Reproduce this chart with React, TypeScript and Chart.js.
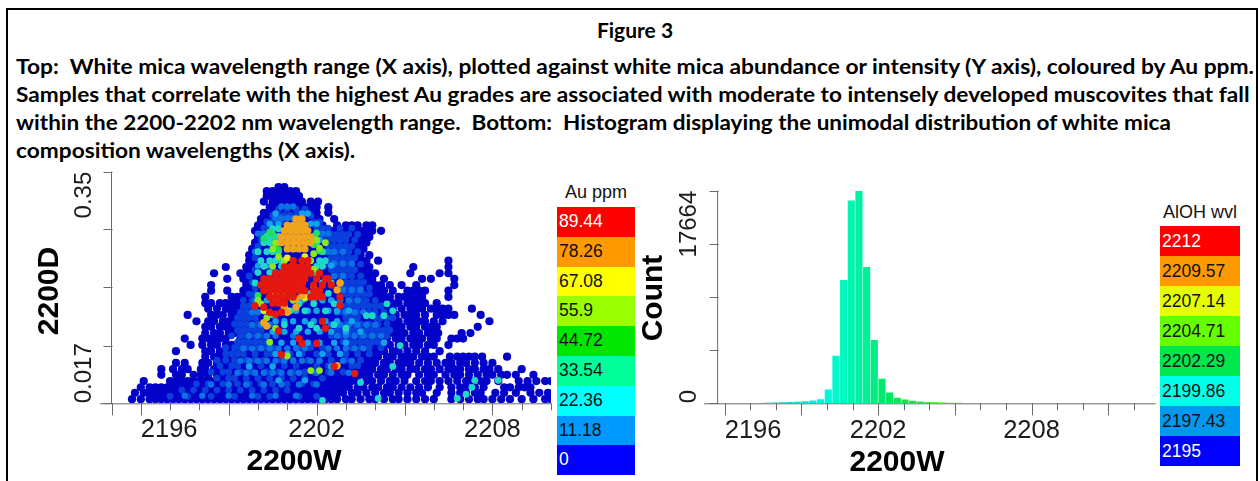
import React, { useEffect, useRef } from "react";
import { Chart, registerables } from "chart.js";
Chart.register(...registerables);

type Row = [number, number[]];
const X_ORIGIN = 2195; // scatter x values below are nm above this wavelength

const headerTitle = "Figure 3";
const headerLines = [
  "Top:  White mica wavelength range (X axis), plotted against white mica abundance or intensity (Y axis), coloured by Au ppm.",
  "Samples that correlate with the highest Au grades are associated with moderate to intensely developed muscovites that fall",
  "within the 2200-2202 nm wavelength range.  Bottom:  Histogram displaying the unimodal distribution of white mica",
  "composition wavelengths (X axis).",
];

const auLegendLabels = ["89.44", "78.26", "67.08", "55.9", "44.72", "33.54", "22.36", "11.18", "0"];
const auLegendColors = ["#ff0000", "#ff9900", "#ffff00", "#99ff00", "#00e600", "#00ff99", "#00ffff", "#0099ff", "#0000ff"];
const wvlLegendLabels = ["2212", "2209.57", "2207.14", "2204.71", "2202.29", "2199.86", "2197.43", "2195"];
const wvlLegendColors = ["#ff0000", "#ff9900", "#e6ff00", "#66ff00", "#00e64d", "#00ffe6", "#0099ee", "#0000ff"];

const scatterXTicks = [2195, 2196, 2197, 2198, 2199, 2200, 2201, 2202, 2203, 2204, 2205, 2206, 2207, 2208, 2209, 2210];
const scatterXMajor = [2195, 2196, 2199, 2202, 2205, 2208];
const scatterXLabels = [2196, 2202, 2208];
const scatterYTicks = [0.017, 0.1, 0.184, 0.267, 0.35];
const scatterYLabels = ["0.017", "", "", "", "0.35"];

const histXTicks = [2196, 2197, 2198, 2199, 2200, 2201, 2202, 2203, 2204, 2205, 2206, 2207, 2208, 2209, 2210, 2211, 2212];
const histXMajor = [2196, 2199, 2202, 2205, 2208, 2211];
const histXLabels = [2196, 2202, 2208];
const histYTicks = [0, 4416, 8832, 13248, 17664];
const histYLabels = ["0", "", "", "", "17664"];

const histBins = [2197.35, 2197.65, 2197.95, 2198.25, 2198.55, 2198.85, 2199.15, 2199.45, 2199.75, 2200.05, 2200.35, 2200.65, 2200.95, 2201.25, 2201.55, 2201.85, 2202.15, 2202.45, 2202.75, 2203.05, 2203.35, 2203.65, 2203.95, 2204.25, 2204.55, 2204.85, 2205.15, 2205.45, 2205.75, 2206.05, 2206.35, 2206.65];
const histCounts = [30, 40, 60, 90, 110, 130, 170, 230, 340, 1140, 3950, 10240, 16860, 17664, 11320, 5260, 2030, 890, 470, 310, 220, 140, 110, 85, 60, 50, 40, 35, 30, 25, 20, 15];
const histColors = ["#1aa8c8", "#1ab0c8", "#14c0c8", "#10c8d0", "#10d0d0", "#08e0e0", "#00e8e0", "#00f0e0", "#00f5dc", "#00f8d8", "#00f8cc", "#00f8c0", "#00f5b0", "#00f0a4", "#00f094", "#00ee84", "#00ea70", "#00e860", "#10e650", "#18e448", "#20e040", "#30e038", "#40e030", "#48e030", "#50e028", "#60e020", "#70e020", "#80e020", "#90e020", "#a0e020", "#b0e020", "#c0e020"];

const au0: Row[] = [
  [0.328, [5.7, 5.9]],
  [0.322, [5.3, 5.5, 5.7, 5.9, 6.1, 6.3]],
  [0.315, [5.3, 5.5, 5.7, 5.9, 6.1, 6.3, 6.4]],
  [0.307, [5.2, 5.5, 5.7, 5.9, 6.1, 6.3, 6.5, 6.8, 7.05]],
  [0.299, [5.4, 5.6, 5.8, 6.0, 6.2, 6.4, 6.6, 6.8, 7.0, 7.4]],
  [0.291, [5.2, 5.4, 5.6, 5.8, 6.0, 6.2, 6.4, 6.6, 6.8, 7.0, 7.4]],
  [0.282, [5.1, 5.3, 5.5, 5.7, 5.9, 6.1, 6.3, 6.5, 6.7, 6.9, 7.1, 7.6]],
  [0.273, [5.0, 5.2, 5.4, 5.6, 5.8, 6.0, 6.2, 6.4, 6.6, 6.8, 7.0, 7.2, 7.7, 8.0, 8.2, 8.4, 8.7, 8.9]],
  [0.265, [4.9, 5.1, 5.3, 5.5, 5.7, 5.9, 6.1, 6.3, 6.5, 6.7, 6.9, 7.1, 7.3, 7.5, 7.7, 7.9, 8.1, 8.3, 8.5, 8.7, 8.9, 9.2]],
  [0.256, [5.0, 5.2, 5.4, 5.6, 5.8, 6.0, 6.2, 6.4, 6.6, 6.8, 7.0, 7.2, 7.4, 7.6, 7.8, 8.0, 8.2, 8.4, 8.6, 8.8]],
  [0.248, [4.9, 5.1, 5.3, 5.5, 5.7, 5.9, 6.1, 6.3, 6.5, 6.7, 6.9, 7.1, 7.3, 7.5, 7.7, 7.9, 8.1, 8.3, 8.5, 8.7]],
  [0.239, [4.8, 5.0, 5.2, 5.4, 5.6, 5.8, 6.0, 6.2, 6.4, 6.6, 6.8, 7.0, 7.2, 7.4, 7.6, 7.8, 8.0, 8.2, 8.4, 8.6]],
  [0.23, [4.7, 4.9, 5.1, 5.3, 5.5, 5.7, 5.9, 6.1, 6.3, 6.5, 6.7, 6.9, 7.1, 7.3, 7.5, 7.7, 7.9, 8.1, 8.3, 8.5, 8.8]],
  [0.222, [4.7, 4.9, 5.1, 5.3, 5.5, 5.7, 5.9, 6.1, 6.3, 6.5, 6.7, 6.9, 7.1, 7.3, 7.5, 7.7, 7.9, 8.1, 8.3, 8.5, 8.7, 9.1, 11.5]],
  [0.213, [3.9, 4.6, 4.8, 5.0, 5.2, 5.4, 5.6, 5.8, 6.0, 6.2, 6.4, 6.6, 6.8, 7.0, 7.2, 7.4, 7.6, 7.8, 8.0, 8.2, 8.4, 8.6, 8.8, 10.3, 11.5]],
  [0.204, [3.5, 4.4, 4.6, 4.8, 5.0, 5.2, 5.4, 5.6, 5.8, 6.0, 6.2, 6.4, 6.6, 6.8, 7.0, 7.2, 7.4, 7.6, 7.8, 8.0, 8.2, 8.4, 8.6, 8.8, 9.0, 10.2, 11.2, 11.5]],
  [0.196, [3.95, 4.5, 4.7, 4.9, 5.1, 5.3, 5.5, 5.7, 5.9, 6.1, 6.3, 6.5, 6.7, 6.9, 7.1, 7.3, 7.5, 7.7, 7.9, 8.1, 8.3, 8.5, 8.7, 8.9, 9.3, 10.6, 10.9, 11.7]],
  [0.187, [3.4, 4.6, 4.8, 5.0, 5.2, 5.4, 5.6, 5.8, 6.0, 6.2, 6.4, 6.6, 6.8, 7.0, 7.2, 7.4, 7.6, 7.8, 8.0, 8.2, 8.4, 8.6, 8.8, 9.0, 9.2, 9.5, 9.9, 10.4, 11.7]],
  [0.179, [3.4, 3.95, 4.5, 4.7, 4.9, 5.1, 5.3, 5.5, 5.7, 5.9, 6.1, 6.3, 6.5, 6.7, 6.9, 7.1, 7.3, 7.5, 7.7, 7.9, 8.1, 8.3, 8.5, 8.7, 8.9, 9.1, 9.3, 9.6, 10.1, 10.3, 10.5, 10.7, 11.5]],
  [0.17, [3.2, 4.1, 4.3, 4.5, 4.7, 4.9, 5.1, 5.3, 5.5, 5.7, 5.9, 6.1, 6.3, 6.5, 6.7, 6.9, 7.1, 7.3, 7.5, 7.7, 7.9, 8.1, 8.3, 8.5, 8.7, 8.9, 9.1, 9.3, 9.5, 9.8, 10.0, 10.2, 10.4, 10.6, 11.5]],
  [0.161, [3.2, 3.4, 3.7, 3.9, 4.1, 4.3, 4.4, 4.6, 4.8, 5.0, 5.2, 5.4, 5.6, 5.8, 6.0, 6.2, 6.4, 6.6, 6.8, 7.0, 7.2, 7.4, 7.6, 7.8, 8.0, 8.2, 8.4, 8.6, 8.8, 9.0, 9.2, 9.4, 9.6, 9.8, 10.1, 10.3, 10.5, 10.7, 11.1]],
  [0.153, [3.3, 3.6, 3.9, 4.0, 4.2, 4.4, 4.6, 4.8, 5.0, 5.2, 5.4, 5.6, 5.8, 6.0, 6.2, 6.4, 6.6, 6.8, 7.0, 7.2, 7.4, 7.6, 7.8, 8.0, 8.2, 8.4, 8.6, 8.8, 9.0, 9.2, 9.4, 9.6, 9.9, 10.2, 10.4, 10.6, 10.9, 11.1, 11.3, 11.5, 12.3]],
  [0.144, [2.6, 3.4, 3.6, 3.8, 4.1, 4.3, 4.5, 4.7, 4.9, 5.1, 5.3, 5.5, 5.7, 5.9, 6.1, 6.3, 6.5, 6.7, 6.9, 7.1, 7.3, 7.5, 7.7, 7.9, 8.1, 8.3, 8.5, 8.7, 8.9, 9.1, 9.3, 9.5, 9.7, 10.0, 10.2, 10.4, 10.7, 11.1, 11.3, 11.5, 11.7, 12.6]],
  [0.135, [2.9, 3.3, 3.5, 3.8, 4.0, 4.2, 4.4, 4.6, 4.8, 5.0, 5.2, 5.4, 5.6, 5.8, 6.0, 6.2, 6.4, 6.6, 6.8, 7.0, 7.2, 7.4, 7.6, 7.8, 8.0, 8.2, 8.4, 8.6, 8.8, 9.0, 9.2, 9.4, 9.6, 9.8, 10.1, 10.3, 10.5, 10.7, 11.0, 11.3, 12.9]],
  [0.127, [3.2, 3.4, 3.7, 3.9, 4.1, 4.3, 4.5, 4.7, 4.9, 5.1, 5.3, 5.5, 5.7, 5.9, 6.1, 6.3, 6.5, 6.7, 6.9, 7.1, 7.3, 7.5, 7.7, 7.9, 8.1, 8.3, 8.5, 8.7, 8.9, 9.1, 9.3, 9.5, 9.7, 9.9, 10.2, 10.4, 10.7, 10.9, 11.1, 12.5]],
  [0.118, [3.2, 3.5, 3.7, 4.0, 4.2, 4.4, 4.6, 4.8, 5.0, 5.2, 5.4, 5.6, 5.8, 6.0, 6.2, 6.4, 6.6, 6.8, 7.0, 7.2, 7.4, 7.6, 7.8, 8.0, 8.2, 8.4, 8.6, 8.8, 9.0, 9.2, 9.4, 9.6, 9.8, 10.0, 10.3, 10.5, 10.8, 11.0, 11.15, 11.95, 12.25]],
  [0.11, [2.5, 3.1, 3.3, 3.5, 3.7, 3.9, 4.4, 4.6, 4.8, 5.0, 5.2, 5.4, 5.6, 5.8, 6.0, 6.2, 6.4, 6.6, 6.8, 7.0, 7.2, 7.4, 7.6, 7.8, 8.0, 8.2, 8.4, 8.6, 8.8, 9.0, 9.2, 9.4, 9.7, 9.9, 10.2, 10.4, 10.6, 10.9, 11.1, 11.6, 11.8, 12.0]],
  [0.101, [2.7, 3.1, 3.4, 3.6, 3.9, 4.1, 4.3, 4.5, 4.7, 4.9, 5.1, 5.3, 5.5, 5.7, 5.9, 6.1, 6.3, 6.5, 6.7, 6.9, 7.1, 7.3, 7.5, 7.7, 7.9, 8.1, 8.3, 8.5, 8.7, 8.9, 9.1, 9.3, 9.5, 9.8, 10.0, 10.3, 10.5, 10.8, 11.0, 11.5]],
  [0.092, [2.2, 3.2, 3.4, 3.7, 4.0, 4.3, 4.5, 4.7, 4.9, 5.1, 5.3, 5.5, 5.7, 5.9, 6.1, 6.3, 6.5, 6.7, 6.9, 7.1, 7.3, 7.5, 7.7, 7.9, 8.1, 8.3, 8.5, 8.7, 8.9, 9.1, 9.3, 9.6, 9.8, 10.1, 10.4, 10.7, 11.2]],
  [0.084, [3.2, 3.5, 3.7, 3.9, 4.1, 4.3, 4.5, 4.7, 4.9, 5.1, 5.3, 5.5, 5.7, 5.9, 6.1, 6.3, 6.5, 6.7, 6.9, 7.1, 7.3, 7.5, 7.7, 7.9, 8.1, 8.3, 8.5, 8.7, 8.9, 9.1, 9.4, 9.6, 9.9, 10.1, 10.3, 10.6, 10.8, 11.0, 11.55, 11.8, 12.0, 12.2, 12.4, 12.65, 13.5]],
  [0.075, [2.2, 2.5, 3.1, 3.3, 3.6, 3.8, 4.0, 4.2, 4.4, 4.6, 4.8, 5.0, 5.2, 5.4, 5.6, 5.8, 6.0, 6.2, 6.4, 6.6, 6.8, 7.0, 7.2, 7.4, 7.6, 7.8, 8.0, 8.2, 8.4, 8.6, 8.8, 9.0, 9.3, 9.5, 9.8, 10.0, 10.2, 10.5, 10.8, 11.1, 11.4, 11.6, 11.9, 12.1, 12.4, 12.7, 13.0]],
  [0.066, [1.7, 2.1, 2.4, 2.6, 3.05, 3.2, 3.5, 3.7, 3.9, 4.1, 4.3, 4.5, 4.7, 4.9, 5.1, 5.3, 5.5, 5.7, 5.9, 6.1, 6.3, 6.5, 6.7, 6.9, 7.1, 7.3, 7.5, 7.7, 7.9, 8.1, 8.3, 8.5, 8.7, 8.9, 9.2, 9.4, 9.7, 9.9, 10.2, 10.4, 10.7, 10.9, 11.2, 11.5, 11.7, 11.9, 12.2, 12.4, 12.7, 12.9, 13.2, 14.0]],
  [0.058, [1.7, 2.2, 2.4, 2.8, 3.05, 3.3, 3.6, 3.8, 4.0, 4.2, 4.4, 4.6, 4.8, 5.0, 5.2, 5.4, 5.6, 5.8, 6.0, 6.2, 6.4, 6.6, 6.8, 7.0, 7.2, 7.4, 7.6, 7.8, 8.0, 8.2, 8.4, 8.6, 8.8, 9.1, 9.3, 9.6, 9.9, 10.1, 10.5, 10.8, 11.0, 11.4, 11.7, 11.9, 12.2, 12.5, 12.8, 13.0, 13.3, 13.5, 13.8, 14.4]],
  [0.049, [1.1, 2.0, 2.2, 2.4, 2.6, 2.8, 3.0, 3.2, 3.4, 3.6, 3.8, 4.0, 4.2, 4.4, 4.6, 4.8, 5.0, 5.2, 5.4, 5.6, 5.8, 6.0, 6.2, 6.4, 6.6, 6.8, 7.0, 7.2, 7.4, 7.6, 7.8, 8.0, 8.2, 8.4, 8.7, 8.9, 9.2, 9.5, 9.7, 10.0, 10.4, 10.7, 10.9, 11.2, 11.5, 11.8, 12.1, 12.3, 12.6, 12.8, 13.2, 13.9, 14.2, 14.5, 14.8, 15.0]],
  [0.04, [1.0, 1.3, 1.5, 1.7, 1.9, 2.1, 2.3, 2.5, 2.7, 2.9, 3.1, 3.3, 3.5, 3.7, 3.9, 4.1, 4.3, 4.5, 4.7, 4.9, 5.1, 5.3, 5.5, 5.7, 5.9, 6.1, 6.3, 6.5, 6.7, 6.9, 7.1, 7.3, 7.5, 7.7, 7.9, 8.1, 8.4, 8.6, 8.9, 9.1, 9.4, 9.6, 9.9, 10.2, 10.5, 10.8, 11.2, 11.6, 11.9, 12.1, 12.4, 12.7, 13.4, 13.6, 13.9, 14.1, 14.3]],
  [0.032, [0.8, 1.1, 1.3, 1.5, 1.7, 1.9, 2.1, 2.3, 2.5, 2.7, 2.9, 3.1, 3.3, 3.5, 3.7, 3.9, 4.1, 4.3, 4.5, 4.7, 4.9, 5.1, 5.3, 5.5, 5.7, 5.9, 6.1, 6.3, 6.5, 6.7, 6.9, 7.1, 7.3, 7.5, 7.7, 7.9, 8.2, 8.4, 8.7, 9.0, 9.3, 9.5, 9.8, 10.1, 10.4, 10.6, 11.1, 11.6, 11.9, 12.1, 12.4, 12.6, 13.1, 13.4, 13.8, 14.3, 14.6, 14.9]],
  [0.023, [0.7, 1.0, 1.3, 1.5, 1.7, 1.9, 2.1, 2.3, 2.5, 2.7, 2.9, 3.1, 3.3, 3.5, 3.7, 3.9, 4.1, 4.3, 4.5, 4.7, 4.9, 5.1, 5.3, 5.5, 5.7, 5.9, 6.1, 6.3, 6.5, 6.7, 6.9, 7.1, 7.3, 7.5, 7.7, 8.0, 8.2, 8.5, 8.8, 9.0, 9.3, 9.6, 9.8, 10.1, 10.4, 10.7, 11.0, 11.6, 11.9, 12.2, 12.5, 12.7, 13.0, 13.3, 13.6, 14.0, 14.4, 14.8, 15.0]],
];

const au5: Row[] = [
  [0.296, [5.7, 6.0, 6.3, 6.6]],
  [0.287, [5.5, 5.7, 5.9, 6.1, 6.3, 6.5, 6.8]],
  [0.278, [5.3, 5.5, 5.8, 6.9, 7.1]],
  [0.269, [5.2, 5.4, 5.6, 7.0, 7.2, 7.4, 7.8, 8.2]],
  [0.26, [5.1, 5.3, 5.5, 7.1, 7.3, 7.5, 7.7, 7.9, 8.1, 8.4]],
  [0.252, [5.1, 7.2, 7.4, 7.6, 7.8, 8.0, 8.3]],
  [0.243, [5.0, 7.4, 7.6, 7.8, 8.0, 8.2]],
  [0.235, [5.0, 7.3, 7.5, 7.7, 7.9, 8.1, 8.4]],
  [0.226, [4.9, 7.5, 7.7, 7.9, 8.1, 8.3]],
  [0.217, [7.3, 7.5, 7.8, 8.0, 8.2, 8.5]],
  [0.209, [4.9, 7.5, 7.7, 7.9, 8.1, 8.3]],
  [0.2, [4.7, 7.6, 7.8, 8.0, 8.2, 8.5]],
  [0.191, [4.8, 7.8, 8.0, 8.2, 8.4, 8.6]],
  [0.183, [4.9, 7.9, 8.1, 8.3, 8.5, 8.8]],
  [0.174, [4.7, 4.9, 8.0, 8.2, 8.4, 8.6, 8.8]],
  [0.165, [4.5, 4.8, 7.8, 8.1, 8.3, 8.5, 8.7, 9.0]],
  [0.157, [4.5, 4.7, 4.9, 8.0, 8.2, 8.4, 8.6, 8.8, 9.0, 9.2]],
  [0.148, [4.4, 4.6, 4.9, 7.9, 8.2, 8.4, 8.8, 9.0, 9.3]],
  [0.14, [4.3, 4.5, 4.7, 4.9, 8.0, 8.2, 8.4, 9.0, 9.2, 9.4, 9.6]],
  [0.131, [4.2, 4.4, 4.6, 5.0, 7.6, 8.0, 8.3, 8.5, 8.8, 9.1, 9.4]],
  [0.122, [4.3, 4.5, 4.7, 4.9, 5.1, 7.7, 7.9, 8.1, 8.3, 8.5, 8.7, 8.9, 9.1, 9.3, 9.5]],
  [0.114, [4.1, 4.4, 4.6, 4.9, 5.2, 7.5, 7.8, 8.2, 8.5, 8.8, 9.0, 9.4]],
  [0.105, [4.3, 4.5, 4.7, 4.9, 5.1, 5.3, 7.9, 8.1, 8.3, 8.5, 8.7, 8.9, 9.1, 9.3]],
  [0.097, [3.9, 4.2, 4.4, 4.6, 5.0, 5.2, 5.5, 6.4, 6.8, 7.2, 8.2, 8.5, 8.8, 9.2]],
  [0.088, [3.9, 4.1, 4.3, 4.5, 4.9, 5.3, 5.5, 6.1, 6.5, 7.0, 7.4, 7.8, 8.0, 8.4, 8.8]],
  [0.079, [3.6, 3.9, 4.2, 4.6, 4.9, 5.2, 5.8, 6.2, 6.7, 7.1, 7.5, 8.0, 8.5]],
  [0.071, [3.7, 4.1, 4.3, 4.7, 5.1, 5.5, 5.9, 6.3, 7.0, 7.4, 8.2, 8.4]],
  [0.062, [3.4, 3.8, 4.0, 4.4, 4.8, 5.3, 5.7, 6.2, 6.6, 6.9, 7.4, 7.9]],
  [0.053, [3.6, 4.0, 4.2, 4.6, 5.0, 5.4, 5.8, 6.2, 6.6, 7.2]],
  [0.045, [2.9, 3.3, 3.8, 4.3, 4.7, 5.1, 5.5, 6.0, 6.5, 6.9]],
  [0.036, [2.4, 2.8, 3.2, 3.6, 4.0, 4.4, 4.8, 5.2, 5.6, 6.0]],
  [0.027, [2.0, 2.6, 3.4, 4.2, 5.0, 5.4, 6.4, 7.0]],
];

const au11: Row[] = [
  [0.3, [5.8, 6.0, 6.2]],
  [0.283, [5.6, 5.8, 6.0, 6.2, 6.5]],
  [0.261, [5.0, 5.2, 7.0, 7.2, 7.4]],
  [0.235, [4.9, 7.4, 7.6, 7.9]],
  [0.218, [7.6, 7.9, 8.2]],
  [0.2, [7.6, 7.9]],
  [0.18, [7.9, 8.2, 8.5]],
  [0.165, [4.9, 7.5, 7.8, 8.1, 8.4]],
  [0.148, [4.8, 5.0, 7.7, 8.0, 8.3, 8.6]],
  [0.13, [4.8, 5.1, 5.4, 7.5, 7.8, 8.1, 8.4, 8.7, 9.0]],
  [0.114, [4.7, 5.0, 5.3, 5.6, 6.2, 7.7, 8.0, 8.3, 8.6, 8.9, 9.2]],
  [0.096, [4.5, 4.8, 5.1, 5.4, 5.7, 6.0, 6.3, 6.6, 7.4, 7.7, 8.0, 8.3, 8.6]],
  [0.078, [4.4, 4.7, 5.0, 5.3, 5.6, 5.9, 6.2, 6.5, 6.8, 7.1, 7.9, 8.2]],
  [0.061, [4.3, 4.6, 4.9, 5.2, 5.5, 5.8, 6.1, 6.4, 7.0, 7.5, 8.1]],
  [0.044, [3.4, 4.0, 4.6, 5.2, 5.8, 6.4, 7.0]],
  [0.028, [2.5, 3.1, 4.0, 4.8, 5.6, 6.3]],
];

const au22: Row[] = [
  [0.29, [5.6, 6.5, 6.7]],
  [0.275, [5.4, 5.7, 6.8, 7.0]],
  [0.252, [5.2, 5.4, 7.1]],
  [0.215, [5.0, 5.3, 7.5]],
  [0.165, [5.3, 6.5, 6.9, 7.2, 7.5]],
  [0.15, [6.0, 6.3, 6.7, 7.0, 7.4, 7.7, 8.1]],
  [0.135, [5.6, 5.9, 6.2, 6.6, 6.9, 7.3, 7.7, 8.2]],
  [0.12, [5.5, 5.9, 6.3, 6.7, 7.1, 7.5, 8.0, 8.5]],
  [0.104, [5.4, 5.8, 6.2, 6.7, 7.1, 7.6, 8.0, 9.3]],
  [0.088, [5.6, 6.0, 6.4, 7.2, 7.8]],
  [0.07, [4.7, 5.5, 7.5]],
  [0.05, [5.7, 6.6]],
];

const au33: Row[] = [
  [0.268, [5.5, 5.7]],
  [0.257, [5.3, 5.5, 5.7, 6.9]],
  [0.248, [5.2, 5.4, 5.6, 7.0]],
  [0.235, [5.0, 5.3, 5.5, 5.7, 7.2]],
  [0.222, [5.1, 5.4, 5.6, 5.8, 7.1, 7.3]],
  [0.214, [5.2, 5.8, 7.0, 7.2]],
  [0.205, [5.0, 5.4, 5.6, 6.9]],
  [0.19, [4.9, 7.2, 7.5]],
  [0.175, [6.8, 7.4]],
  [0.16, [6.9, 6.4, 7.6, 9.4]],
  [0.15, [6.1, 6.6, 7.3, 9.6]],
  [0.143, [8.7, 8.9, 9.3]],
  [0.13, [5.9, 6.8, 7.6]],
  [0.125, [6.4, 7.0, 8.0]],
  [0.1, [9.85]],
  [0.07, [9.6]],
  [0.05, [12.4, 13.2]],
  [0.047, [8.5]],
  [0.04, [12.3]],
  [0.03, [12.1]],
  [0.024, [11.8, 9.1]],
  [0.021, [7.2]],
];

const au44X = [5.4, 5.2, 5.7, 6.9, 7.1, 5.8, 5.0, 5.5, 7.0, 5.5, 5.6, 7.0];
const au44Y = [0.263, 0.254, 0.238, 0.245, 0.236, 0.176, 0.172, 0.144, 0.206, 0.26, 0.244, 0.262];

const au56X = [7.3, 5.6, 5.5, 7.0, 7.1, 6.9, 6.8, 6.9, 5.5, 6.9, 7.0, 7.2, 5.0, 5.1, 5.4, 6.2, 6.6, 5.3, 5.4, 6.0, 6.8, 7.1, 5.6, 5.7, 5.9];
const au56Y = [0.248, 0.248, 0.239, 0.252, 0.24, 0.232, 0.222, 0.21, 0.214, 0.185, 0.178, 0.17, 0.165, 0.16, 0.17, 0.165, 0.168, 0.14, 0.105, 0.085, 0.064, 0.064, 0.125, 0.228, 0.222];

const au67X = [7.8, 5.2, 6.6, 5.5, 6.0, 6.0, 6.6];
const au67Y = [0.19, 0.15, 0.17, 0.172, 0.15, 0.226, 0.228];

const au78: Row[] = [
  [0.282, [6.3, 6.5]],
  [0.273, [6.0, 6.2, 6.4, 6.6]],
  [0.265, [5.9, 6.1, 6.3, 6.5, 6.7]],
  [0.256, [5.8, 6.0, 6.2, 6.4, 6.6, 6.8]],
  [0.248, [5.8, 6.0, 6.2, 6.4, 6.6, 6.8]],
  [0.239, [6.0, 6.2, 6.4, 6.6]],
  [0.19, [6.5, 7.8]],
  [0.18, [6.4, 6.1, 7.7]],
  [0.172, [5.8, 6.5]],
  [0.167, [5.6, 6.3]],
  [0.155, [5.9, 6.3]],
  [0.148, [6.0]],
  [0.133, [5.2]],
  [0.128, [5.3]],
  [0.071, [7.7]],
];

const au89: Row[] = [
  [0.222, [6.2, 6.5, 6.7]],
  [0.213, [5.9, 6.1, 6.3, 6.5, 6.7]],
  [0.204, [5.6, 5.8, 6.0, 6.2, 6.4, 6.6, 6.8, 7.1]],
  [0.196, [5.2, 5.4, 5.6, 5.8, 6.0, 6.2, 6.4, 6.6, 7.0, 7.3, 7.4]],
  [0.187, [5.1, 5.3, 5.5, 5.7, 5.9, 6.1, 6.3, 6.5, 6.9, 7.2, 7.5]],
  [0.179, [5.2, 5.4, 5.6, 5.8, 6.0, 6.2, 6.4, 6.6, 6.9, 7.1]],
  [0.17, [5.4, 5.6, 5.8, 6.0, 6.2, 6.8, 7.0, 7.2, 7.8]],
  [0.161, [5.5, 5.7, 5.9]],
  [0.158, [7.8]],
  [0.157, [4.9]],
  [0.155, [5.2]],
  [0.148, [5.4, 5.8]],
  [0.145, [5.6]],
  [0.135, [7.2]],
  [0.125, [7.3]],
  [0.121, [5.7]],
  [0.11, [6.4]],
  [0.103, [6.5, 7.0]],
  [0.087, [5.8]],
  [0.07, [7.6]],
  [0.06, [8.3]],
];

const fromRows = (rows: Row[]) => rows.flatMap(([y, xs]) => xs.map((x) => ({ x: X_ORIGIN + x, y })));
const fromPairs = (xs: number[], ys: number[]) => xs.map((x, i) => ({ x: X_ORIGIN + x, y: ys[i] }));

const tickColor = "#6a6a6a";
const textColor = "#1c1c1c";

function axisPlugin(cfg: any) {
  return {
    id: "paperAxes",
    afterDraw(chart: any) {
      const { ctx, scales } = chart;
      const xs = scales.x;
      const ys = scales.y;
      const base = ys.bottom;
      ctx.save();
      ctx.strokeStyle = tickColor;
      ctx.lineWidth = 1;
      ctx.beginPath();
      ctx.moveTo(cfg.baseLeft, base + 0.5);
      ctx.lineTo(xs.right, base + 0.5);
      ctx.moveTo(xs.left + cfg.spineOffset, ys.top);
      ctx.lineTo(xs.left + cfg.spineOffset, base);
      for (const v of cfg.xTicks) {
        const px = Math.round(xs.getPixelForValue(v)) + 0.5;
        ctx.moveTo(px, base);
        ctx.lineTo(px, base + (cfg.xMajor.includes(v) ? 12 : 7));
      }
      for (const v of cfg.yTicks) {
        const py = Math.round(ys.getPixelForValue(v)) + 0.5;
        ctx.moveTo(xs.left + cfg.spineOffset - 8, py);
        ctx.lineTo(xs.left + cfg.spineOffset + 1, py);
      }
      ctx.stroke();
      ctx.fillStyle = textColor;
      ctx.font = '25.5px "Liberation Sans"';
      ctx.textBaseline = "middle";
      cfg.xLabels.forEach((v: number, i: number) => {
        ctx.textAlign = i === 0 ? "left" : "center";
        ctx.fillText(String(v), xs.getPixelForValue(v), cfg.xLabelY);
      });
      ctx.font = '24px "Liberation Sans"';
      cfg.yTicks.forEach((v: number, i: number) => {
        const label = cfg.yLabels[i];
        if (!label) return;
        ctx.save();
        ctx.translate(cfg.yLabelX, ys.getPixelForValue(v));
        ctx.rotate(-Math.PI / 2);
        ctx.textAlign = i === 0 ? "left" : "right";
        ctx.fillText(label, 0, 0);
        ctx.restore();
      });
      ctx.fillStyle = "#000";
      ctx.font = 'bold 30px "Liberation Sans"';
      ctx.textAlign = "center";
      ctx.fillText(cfg.xTitle, cfg.xTitleX, cfg.xTitleY);
      ctx.save();
      ctx.translate(cfg.yTitleX, cfg.yTitleY);
      ctx.rotate(-Math.PI / 2);
      ctx.fillText(cfg.yTitle, 0, 0);
      ctx.restore();
      ctx.restore();
    },
  };
}

function Legend({ title, labels, colors, left, top, width, cell, titleY }: any) {
  return (
    <>
      <div style={{ position: "absolute", left, top: titleY, width, textAlign: "center", font: '18px "Liberation Sans"', color: "#111", whiteSpace: "nowrap" }}>{title}</div>
      {labels.map((l: string, i: number) => (
        <div key={l} style={{ position: "absolute", left, top: top + i * cell, width, height: cell, background: colors[i], color: i === 0 || i === labels.length - 1 ? "#fff" : "#111", font: `17.5px/${cell}px "Liberation Sans"`, paddingLeft: 2, boxSizing: "border-box" }}>{l}</div>
      ))}
    </>
  );
}

export default function App() {
  const scatterRef = useRef<HTMLCanvasElement>(null);
  const histRef = useRef<HTMLCanvasElement>(null);

  useEffect(() => {
    const pt = (label: string, data: any[], color: string, r: number) => ({ label, data, backgroundColor: color, pointRadius: r, borderWidth: 0, pointBorderWidth: 0 });
    const scatter = new Chart(scatterRef.current!, {
      type: "scatter",
      data: {
        datasets: [
          pt("89.44", fromRows(au89), "#e6170f", 3.7),
          pt("78.26", fromRows(au78), "#f0a41e", 3.7),
          pt("67.08", fromPairs(au67X, au67Y), "#e8e820", 3.4),
          pt("55.9", fromPairs(au56X, au56Y), "#8ce81e", 3.4),
          pt("44.72", fromPairs(au44X, au44Y), "#1ee05a", 3.4),
          pt("33.54", fromRows(au33), "#1ed8c8", 3.4),
          pt("22.36", fromRows(au22), "#12a4ea", 3.2),
          pt("11.18", fromRows(au11), "#0b72e4", 3.2),
          pt("5", fromRows(au5), "#0a40dc", 3.4),
          pt("0", fromRows(au0), "#0202c8", 4.1),
        ],
      },
      options: {
        animation: false,
        responsive: false,
        layout: { padding: { left: 111.5, right: 5, top: 6.7, bottom: 77.7 } },
        plugins: { legend: { display: false }, tooltip: { enabled: false } },
        scales: {
          x: { type: "linear", display: false, min: 2195, max: 2210 },
          y: { type: "linear", display: false, min: 0.017, max: 0.35 },
        },
      },
      plugins: [
        axisPlugin({
          xTicks: scatterXTicks, xMajor: scatterXMajor, xLabels: scatterXLabels, yTicks: scatterYTicks, yLabels: scatterYLabels,
          baseLeft: 100, spineOffset: 0, xLabelY: 265, yLabelX: 84, xTitle: "2200W", xTitleX: 294, xTitleY: 297, yTitle: "2200D", yTitleX: 50, yTitleY: 126,
        }),
      ],
    } as any);

    const hist = new Chart(histRef.current!, {
      type: "bar",
      data: {
        datasets: [
          {
            label: "Count",
            data: histBins.map((x, i) => ({ x, y: histCounts[i] })),
            backgroundColor: histColors,
            borderWidth: 0,
            barPercentage: 0.93,
            categoryPercentage: 1,
          },
        ],
      },
      options: {
        animation: false,
        responsive: false,
        layout: { padding: { left: 64.3, right: 4.5, top: 25.7, bottom: 77.7 } },
        plugins: { legend: { display: false }, tooltip: { enabled: false } },
        scales: {
          x: { type: "linear", display: false, min: 2195.2, max: 2212.85, offset: false },
          y: { type: "linear", display: false, min: 0, max: 17664 },
        },
      },
      plugins: [
        axisPlugin({
          xTicks: histXTicks, xMajor: histXMajor, xLabels: histXLabels, yTicks: histYTicks, yLabels: histYLabels,
          baseLeft: 64, spineOffset: 13.3, xLabelY: 266, yLabelX: 49.5, xTitle: "2200W", xTitleX: 257, xTitleY: 298, yTitle: "Count", yTitleX: 14, yTitleY: 133,
        }),
      ],
    } as any);

    return () => {
      scatter.destroy();
      hist.destroy();
    };
  }, []);

  const lineTops = [53, 81, 109, 137];
  const lineStretch = [1.084, 1.078, 1.071, 1.08];
  return (
    <div style={{ position: "absolute", left: 0, top: 0, width: 1260, height: 481, overflow: "hidden", background: "#fff", filter: "blur(0.45px)" }}>
      <div style={{ position: "absolute", left: 6, top: 8, width: 1252, height: 480, border: "2px solid #000", boxSizing: "border-box" }} />
      <div style={{ position: "absolute", left: 0, top: 17, width: 1270, textAlign: "center", font: "bold 21px Lato", color: "#000" }}>{headerTitle}</div>
      {headerLines.map((t, i) => (
        <div key={i} style={{ position: "absolute", left: 16, top: lineTops[i], font: "bold 21px Lato", color: "#000", whiteSpace: "pre", transform: `scaleX(${lineStretch[i]})`, transformOrigin: "left center" }}>{t}</div>
      ))}
      <canvas ref={scatterRef} width={556} height={316} style={{ position: "absolute", left: 0, top: 165, width: 556, height: 316 }} />
      <canvas ref={histRef} width={520} height={316} style={{ position: "absolute", left: 640, top: 165, width: 520, height: 316 }} />
      <Legend title="Au ppm" labels={auLegendLabels} colors={auLegendColors} left={557} top={207} width={78} cell={29.8} titleY={182} />
      <Legend title="AlOH wvl" labels={wvlLegendLabels} colors={wvlLegendColors} left={1160} top={226} width={80} cell={30} titleY={202} />
    </div>
  );
}
